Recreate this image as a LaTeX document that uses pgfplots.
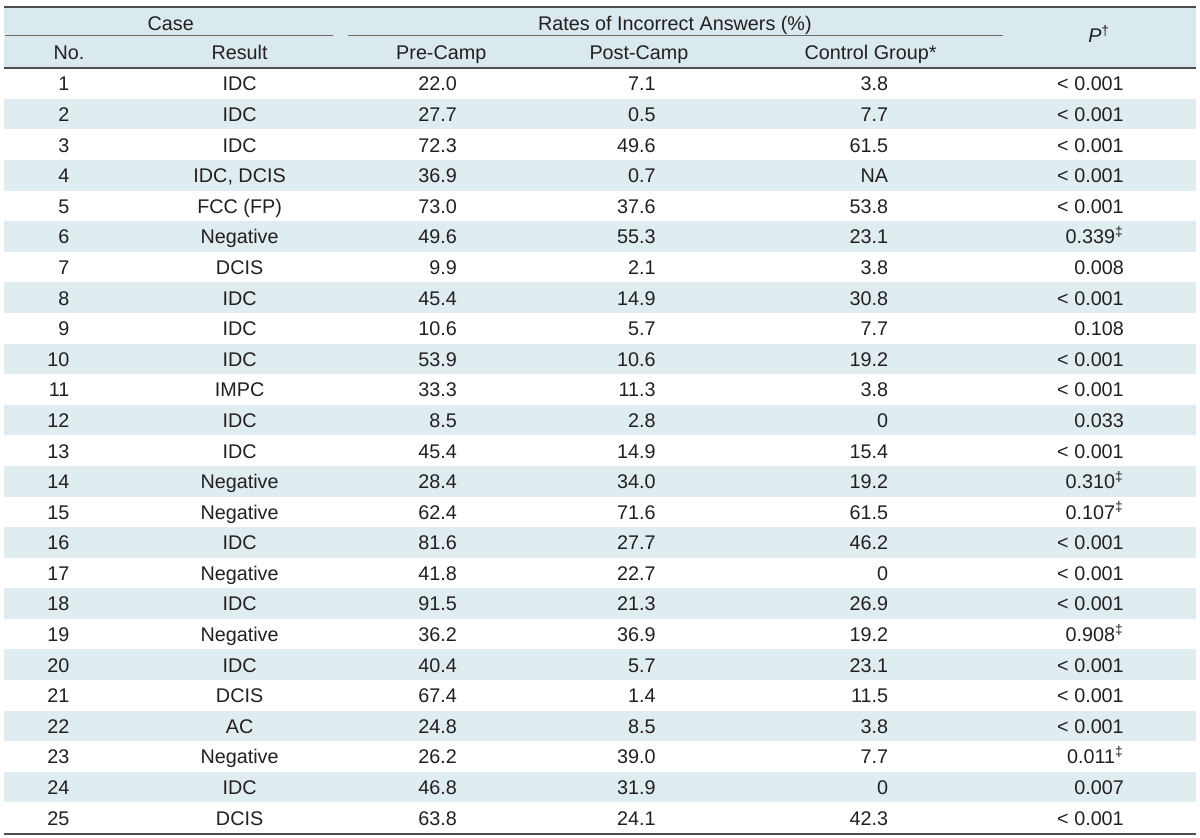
\documentclass[border=0pt]{standalone}
\usepackage{pgfplots}
\pgfplotsset{compat=1.18}
\usepackage{pgfplotstable}
\usepackage{fontspec}
\setmainfont{Liberation Sans}
\definecolor{band}{HTML}{DFEDF0}
\definecolor{head}{HTML}{D9E9ED}
\definecolor{rulec}{HTML}{4F4F4F}
\definecolor{thinc}{HTML}{6A6A6A}
\definecolor{txt}{HTML}{231F20}
\protected\def\dg{\textsuperscript{‡}}
\newcommand\tf{\fontsize{9.9}{11}\selectfont}

\pgfplotstableread[col sep=semicolon]{
no;result;pre;post;ctrl;p
1;IDC;22.0;7.1;3.8;< 0.001
2;IDC;27.7;0.5;7.7;< 0.001
3;IDC;72.3;49.6;61.5;< 0.001
4;IDC, DCIS;36.9;0.7;NA;< 0.001
5;FCC (FP);73.0;37.6;53.8;< 0.001
6;Negative;49.6;55.3;23.1;0.339\dg
7;DCIS;9.9;2.1;3.8;0.008
8;IDC;45.4;14.9;30.8;< 0.001
9;IDC;10.6;5.7;7.7;0.108
10;IDC;53.9;10.6;19.2;< 0.001
11;IMPC;33.3;11.3;3.8;< 0.001
12;IDC;8.5;2.8;0;0.033
13;IDC;45.4;14.9;15.4;< 0.001
14;Negative;28.4;34.0;19.2;0.310\dg
15;Negative;62.4;71.6;61.5;0.107\dg
16;IDC;81.6;27.7;46.2;< 0.001
17;Negative;41.8;22.7;0;< 0.001
18;IDC;91.5;21.3;26.9;< 0.001
19;Negative;36.2;36.9;19.2;0.908\dg
20;IDC;40.4;5.7;23.1;< 0.001
21;DCIS;67.4;1.4;11.5;< 0.001
22;AC;24.8;8.5;3.8;< 0.001
23;Negative;26.2;39.0;7.7;0.011\dg
24;IDC;46.8;31.9;0;0.007
25;DCIS;63.8;24.1;42.3;< 0.001
}\casetable

\begin{document}
\begin{tikzpicture}
\begin{axis}[
  scale only axis, width=600pt, height=418pt,
  xmin=0, xmax=1200, ymin=0, ymax=836, y dir=reverse,
  hide axis, clip=false,
  nodes near coords={\pgfplotspointmeta},
  point meta=explicit symbolic,
  every node near coord/.append style={font=\tf, text=txt, inner sep=0pt},
]
% frame for bounding box
\addplot[draw=none] coordinates {(0,0) (1200,836)};
% header background and row bands
\fill[head] (axis cs:3,4) rectangle (axis cs:1197,65.5);
\pgfplotsinvokeforeach{2,4,...,24}{
  \fill[band] (axis cs:3,{66+30.64*(#1-1)}) rectangle (axis cs:1197,{66+30.64*#1});
}
% rules
\draw[rulec, line width=1pt] (axis cs:3,4.3) -- (axis cs:1197,4.3);
\draw[rulec, line width=0.9pt] (axis cs:3,65.5) -- (axis cs:1197,65.5);
\draw[rulec, line width=1pt] (axis cs:3,832.7) -- (axis cs:1197,832.7);
\draw[thinc, line width=0.5pt] (axis cs:4,33.3) -- (axis cs:333,33.3);
\draw[thinc, line width=0.5pt] (axis cs:348,33.3) -- (axis cs:1004,33.3);
% header text
\begin{scope}[every node/.style={font=\tf, text=txt, inner sep=0pt, anchor=base}]
\node at (axis cs:170,28) {Case};
\node at (axis cs:675,28) {Rates of Incorrect Answers (\%)};
\node at (axis cs:68,57.5) {No.};
\node at (axis cs:239,57.5) {Result};
\node at (axis cs:441,57.5) {Pre-Camp};
\node at (axis cs:639,57.5) {Post-Camp};
\node at (axis cs:871,57.5) {Control Group*};
\node at (axis cs:1100,40) {\textit{P}\textsuperscript{†}};
\end{scope}
% body columns
\addplot[draw=none, every node near coord/.append style={anchor=base east}]
  table[x expr=69, y expr={66+30.64*(\thisrow{no}-0.5)+7.4}, meta=no] {\casetable};
\addplot[draw=none, every node near coord/.append style={anchor=base}]
  table[x expr=239, y expr={66+30.64*(\thisrow{no}-0.5)+7.4}, meta=result] {\casetable};
\addplot[draw=none, every node near coord/.append style={anchor=base east}]
  table[x expr=457, y expr={66+30.64*(\thisrow{no}-0.5)+7.4}, meta=pre] {\casetable};
\addplot[draw=none, every node near coord/.append style={anchor=base east}]
  table[x expr=656, y expr={66+30.64*(\thisrow{no}-0.5)+7.4}, meta=post] {\casetable};
\addplot[draw=none, every node near coord/.append style={anchor=base east}]
  table[x expr=889, y expr={66+30.64*(\thisrow{no}-0.5)+7.4}, meta=ctrl] {\casetable};
\addplot[draw=none, every node near coord/.append style={anchor=base east}]
  table[x expr=1125, y expr={66+30.64*(\thisrow{no}-0.5)+7.4}, meta=p] {\casetable};
\end{axis}
\end{tikzpicture}
\end{document}
